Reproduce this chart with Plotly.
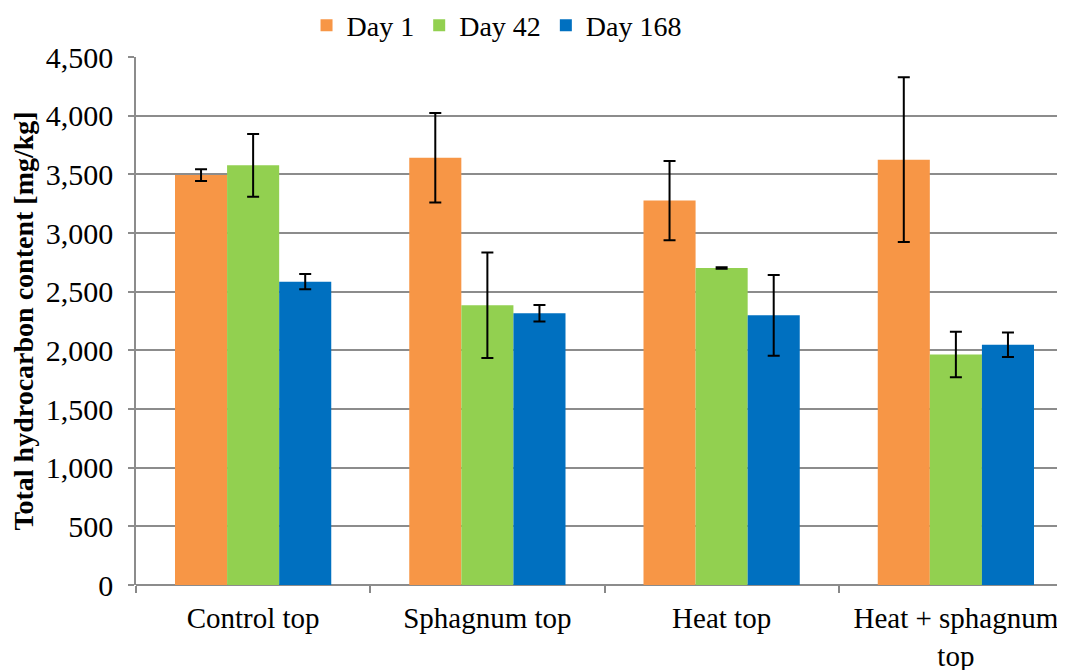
import plotly.graph_objects as go

categories = ["Control top", "Sphagnum top", "Heat top", "Heat + sphagnum<br>top"]
series_names = ["Day 1", "Day 42", "Day 168"]
day1 = [3494, 3642, 3276, 3625]
day1_err = [50, 381, 337, 702]
day42 = [3577, 2384, 2702, 1965]
day42_err = [267, 449, 6, 194]
day168 = [2585, 2316, 2298, 2048]
day168_err = [65, 70, 344, 105]
colors = ["#F79646", "#92D050", "#0070C0"]

FF = "Liberation Serif"

fig = go.Figure()
for name, vals, errs, col in zip(series_names, [day1, day42, day168],
                                 [day1_err, day42_err, day168_err], colors):
    fig.add_trace(go.Bar(
        x=categories, y=vals, name=name,
        marker=dict(color=col, line=dict(width=0)),
        error_y=dict(type="data", array=errs, visible=True,
                     color="black", thickness=2, width=6),
    ))

fig.update_layout(
    width=1065, height=670,
    margin=dict(l=128, r=0, t=49, b=93, autoexpand=False),
    paper_bgcolor="white", plot_bgcolor="white",
    barmode="group", bargap=0.333, bargroupgap=0,
    font=dict(family=FF, size=26, color="black"),
    showlegend=True,
    legend=dict(orientation="h", x=0.182, xanchor="left", y=1.107, yanchor="top",
                font=dict(family=FF, size=28, color="black"), itemwidth=30,
                bgcolor="rgba(0,0,0,0)"),
)
fig.update_xaxes(
    range=[-0.5, 3.5], showgrid=False,
    showline=False, ticks="outside", tickson="boundaries",
    ticklen=7, tickcolor="#888888", tickwidth=1.5,
    tickfont=dict(family=FF, size=29, color="black"), ticklabelstandoff=13,
)
fig.update_yaxes(
    range=[0, 4500], dtick=500, tickformat=",",
    showgrid=True, gridcolor="#8c8c8c", gridwidth=1.5,
    showline=True, linecolor="#8c8c8c", linewidth=1.5,
    ticks="outside", ticklen=6, tickcolor="#8c8c8c", tickwidth=1.5,
    tickfont=dict(family=FF, size=30, color="black"), ticklabelstandoff=9,
    zeroline=True, zerolinecolor="#8c8c8c", zerolinewidth=1.5,
    title=dict(text="<b>Total hydrocarbon content [mg/kg]</b>",
               font=dict(family=FF, size=28, color="black"), standoff=4),
    automargin=False,
)
fig.write_html("out.html")
